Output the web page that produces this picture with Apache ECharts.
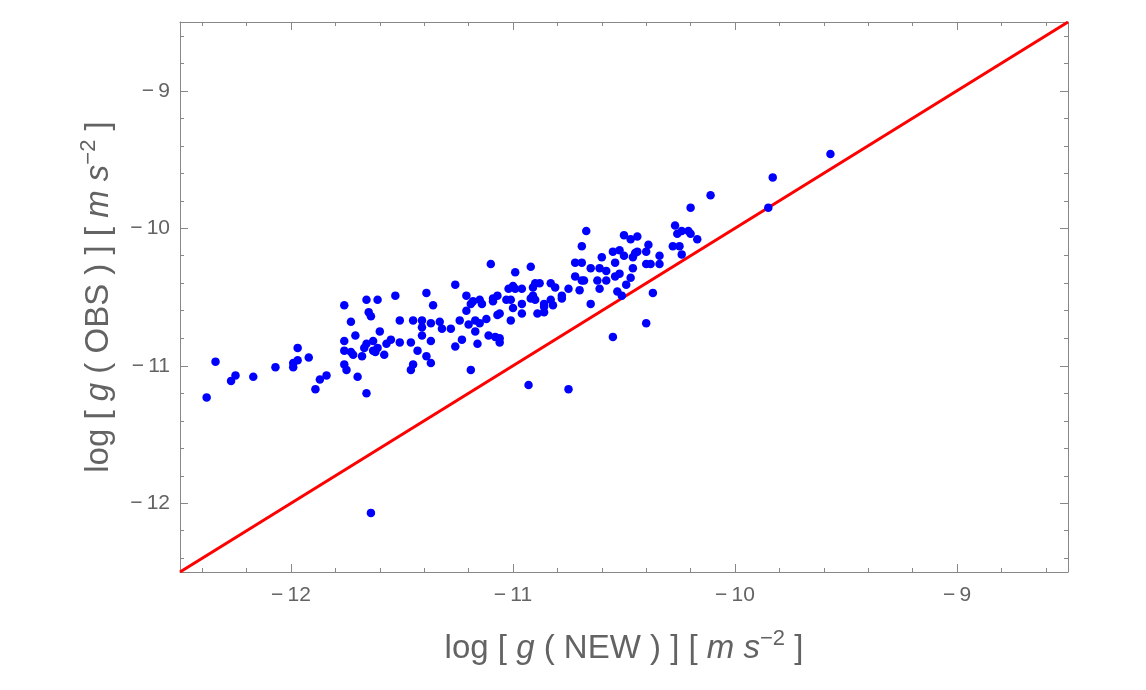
<!DOCTYPE html>
<html>
<head>
<meta charset="utf-8">
<script src="https://cdn.jsdelivr.net/npm/echarts@6/dist/echarts.min.js"></script>
<style>
  html, body { margin: 0; padding: 0; background: #fff; }
  #main { width: 1146px; height: 690px; }
</style>
</head>
<body>
<div id="main"></div>
<script>
// log g(NEW) and log g(OBS)
var gNew = [
  -12.38, -12.34, -12.27, -12.25, -12.17, -12.07, -11.99, -11.99, -11.97, -11.97,
  -11.92, -11.89, -11.87, -11.84, -11.76, -11.73, -11.76, -11.76, -11.73, -11.72,
  -11.76, -11.75, -11.70, -11.66, -11.66, -11.65, -11.64, -11.61, -11.71, -11.68,
  -11.67, -11.66, -11.63, -11.63, -11.62, -11.61, -11.60, -11.10, -10.92, -10.99,
  -11.26, -11.53, -11.39, -11.21, -11.36, -11.51, -11.45, -11.41, -11.37, -11.33,
  -11.32, -11.41, -11.57, -11.55, -11.51, -11.58, -11.46, -11.41, -11.37, -11.43,
  -11.39, -11.37, -11.45, -11.46, -11.28, -11.24, -11.23, -11.26, -11.20, -11.17,
  -11.15, -11.17, -11.16, -11.12, -11.11, -11.08, -11.06, -11.06, -11.19, -11.21,
  -11.19, -11.18, -11.15, -11.14, -11.09, -11.09, -11.07, -11.06, -11.07, -11.01,
  -11.02, -11.03, -11.00, -10.99, -11.01, -11.00, -10.96, -10.96, -10.96, -10.91,
  -10.90, -10.91, -10.90, -10.92, -10.89, -10.86, -10.86, -10.83, -10.83, -10.82,
  -10.81, -10.78, -10.75, -10.93, -10.75, -10.20, -10.27, -10.26, -10.24, -10.21,
  -10.20, -10.17, -10.28, -10.25, -10.24, -10.67, -10.69, -10.50, -10.47, -10.44,
  -10.39, -10.40, -10.34, -10.34, -10.38, -10.40, -10.72, -10.69, -10.65, -10.60,
  -10.61, -10.58, -10.55, -10.52, -10.50, -10.45, -10.44, -10.46, -10.54, -10.46,
  -10.72, -10.69, -10.68, -10.62, -10.58, -10.54, -10.52, -10.47, -10.49, -10.61,
  -10.70, -10.88, -10.78, -10.86, -10.53, -10.51, -10.65, -10.37, -10.40, -10.55,
  -9.57, -9.83, -9.85, -10.11, -11.64
];
var gObs = [
  -11.23, -10.97, -11.11, -11.07, -11.08, -11.01, -11.01, -10.98, -10.96, -10.87,
  -10.94, -11.17, -11.10, -11.07, -10.56, -10.68, -10.82, -10.89, -10.90, -10.92,
  -10.99, -11.03, -11.08, -11.20, -10.52, -10.61, -10.64, -10.52, -10.78, -10.93,
  -10.87, -10.84, -10.82, -10.89, -10.90, -10.87, -10.75, -10.26, -10.28, -10.32,
  -10.41, -10.49, -10.47, -10.49, -10.56, -10.67, -10.67, -10.67, -10.69, -10.68,
  -10.73, -10.72, -10.84, -10.81, -10.83, -10.92, -10.83, -10.78, -10.82, -10.89,
  -10.93, -10.98, -10.99, -11.03, -10.73, -10.67, -10.81, -10.86, -10.70, -10.67,
  -10.69, -10.75, -10.84, -10.66, -10.78, -10.79, -10.80, -10.83, -11.03, -10.60,
  -10.55, -10.53, -10.52, -10.55, -10.51, -10.53, -10.49, -10.62, -10.63, -10.67,
  -10.44, -10.52, -10.42, -10.44, -10.52, -10.58, -10.44, -10.55, -10.62, -10.43,
  -10.40, -10.49, -10.52, -10.51, -10.62, -10.61, -10.55, -10.40, -10.52, -10.56,
  -10.43, -10.51, -10.44, -11.14, -11.17, -9.85, -9.98, -10.04, -10.02, -10.02,
  -10.04, -10.08, -10.13, -10.13, -10.19, -10.02, -10.13, -10.05, -10.08, -10.06,
  -10.12, -10.17, -10.20, -10.26, -10.26, -10.26, -10.25, -10.25, -10.29, -10.21,
  -10.29, -10.31, -10.17, -10.16, -10.20, -10.18, -10.17, -10.21, -10.25, -10.29,
  -10.35, -10.38, -10.38, -10.38, -10.38, -10.35, -10.33, -10.36, -10.41, -10.44,
  -10.45, -10.40, -10.49, -10.57, -10.46, -10.49, -10.55, -10.47, -10.69, -10.79,
  -9.46, -9.63, -9.85, -9.76, -12.07
];
// the 1:1 line
var diagX = [-12.5, -8.5];
var diagY = [-12.5, -8.5];
// ticks
var majorTicks = [-12, -11, -10, -9];
var minorTicks = [];
for (var t = -124; t <= -86; t += 2) {
  if (t % 10 !== 0) minorTicks.push(t / 10);
}

var chart = echarts.init(document.getElementById('main'));

var gray = '#888888';
var txt = '#636363';
var font = 'Liberation Sans';

function fmt(v) {
  return (v < 0 ? '\u2212\u2009' : '') + Math.abs(v);
}

var richName = {
  n: { fontSize: 33, color: txt, fontFamily: font, lineHeight: 42 },
  i: { fontSize: 33, color: txt, fontFamily: font, fontStyle: 'italic', lineHeight: 42 },
  s: { fontSize: 22, color: txt, fontFamily: font, verticalAlign: 'top', lineHeight: 42 }
};

function mkAxis(pos, ticks, len, withLabel, withLine, margin) {
  return {
    type: 'value', position: pos, min: -12.5, max: -8.5,
    axisLine: { show: withLine, onZero: false, lineStyle: { color: gray, width: 1 } },
    axisTick: { show: true, inside: true, length: len, customValues: ticks, lineStyle: { color: gray } },
    axisLabel: withLabel ? {
      show: true, customValues: majorTicks, formatter: fmt, margin: margin,
      color: txt, fontSize: 21, fontFamily: font
    } : { show: false },
    splitLine: { show: false }
  };
}

var xMain = mkAxis('bottom', majorTicks, 8, true, true, 13);
xMain.name = '{n|log [ }{i|g}{n| ( NEW ) ] [ }{i|m s}{s|\u22122}{n| ]}';
xMain.nameLocation = 'middle';
xMain.nameGap = 56;
xMain.nameTextStyle = { rich: richName };

var yMain = mkAxis('left', majorTicks, 8, true, true, 10);
yMain.name = '{n|log [ }{i|g}{n| ( OBS ) ] [ }{i|m s}{s|\u22122}{n| ]}';
yMain.nameLocation = 'middle';
yMain.nameGap = 60;
yMain.nameTextStyle = { rich: richName };

chart.setOption({
  animation: false,
  backgroundColor: '#ffffff',
  grid: { left: 180, right: 78, top: 22, bottom: 118 },
  xAxis: [
    xMain,
    mkAxis('bottom', minorTicks, 4, false, false),
    mkAxis('top', majorTicks, 8, false, true),
    mkAxis('top', minorTicks, 4, false, false)
  ],
  yAxis: [
    yMain,
    mkAxis('left', minorTicks, 4, false, false),
    mkAxis('right', majorTicks, 8, false, true),
    mkAxis('right', minorTicks, 4, false, false)
  ],
  series: [
    {
      type: 'line',
      xAxisIndex: 0, yAxisIndex: 0,
      data: diagX.map(function (x, i) { return [x, diagY[i]]; }),
      showSymbol: false,
      lineStyle: { color: '#ff0000', width: 3 },
      z: 2
    },
    {
      type: 'scatter',
      xAxisIndex: 0, yAxisIndex: 0,
      data: gNew.map(function (x, i) { return [x, gObs[i]]; }),
      symbolSize: 8.5,
      itemStyle: { color: '#0000ff', opacity: 1 },
      z: 3
    }
  ]
});
</script>
</body>
</html>
